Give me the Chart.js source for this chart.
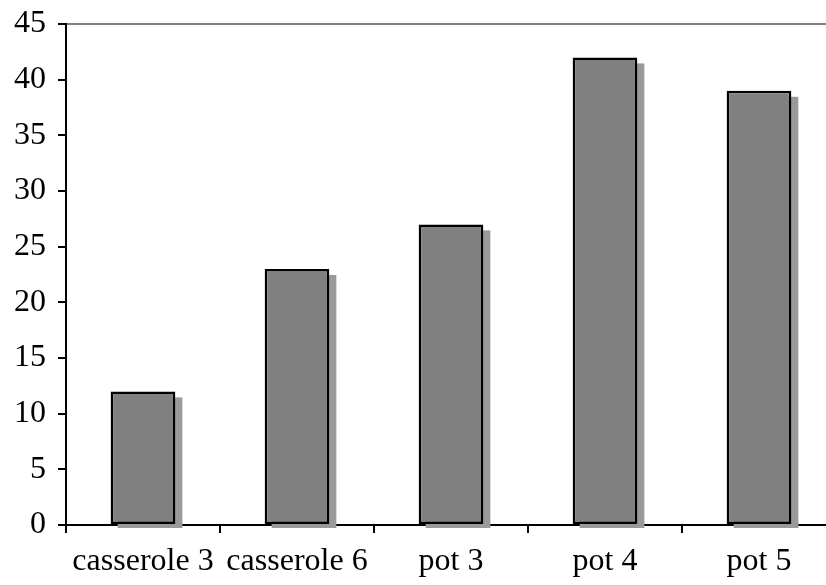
<!DOCTYPE html>
<html>
<head>
<meta charset="utf-8">
<script src="https://cdn.jsdelivr.net/npm/chart.js@4/dist/chart.umd.min.js"></script>
<style>
html,body{margin:0;padding:0;background:#fff;overflow:hidden;width:826px;height:585px;}
#wrap{width:838px;height:585px;}
</style>
</head>
<body>
<div id="wrap"><canvas id="c" width="838" height="585"></canvas></div>
<script>
const categories = ["casserole 3", "casserole 6", "pot 3", "pot 4", "pot 5"];
const values = [12, 23, 27, 42, 39];
const yMin = 0, yMax = 45, yStep = 5;

const shadowPlugin = {
  id: 'barShadow',
  beforeDatasetsDraw(chart) {
    const ctx = chart.ctx;
    const meta = chart.getDatasetMeta(0);
    ctx.save();
    ctx.fillStyle = '#9a9a9a';
    meta.data.forEach(bar => {
      const p = bar.getProps(['x', 'y', 'base', 'width'], true);
      ctx.fillRect(p.x - p.width / 2 + 7, p.y + 6, p.width, p.base - p.y - 2);
    });
    ctx.restore();
  }
};

new Chart(document.getElementById('c'), {
  type: 'bar',
  data: {
    labels: categories,
    datasets: [{
      data: values,
      backgroundColor: '#808080',
      borderColor: '#000000',
      borderWidth: 2.5,
      borderSkipped: false,
      barPercentage: 0.42,
      categoryPercentage: 1.0,
      clip: false
    }]
  },
  options: {
    responsive: false,
    devicePixelRatio: 1,
    animation: false,
    layout: { padding: { top: 24, right: 2, left: 0, bottom: 0 } },
    plugins: { legend: { display: false }, tooltip: { enabled: false } },
    scales: {
      x: {
        offset: true,
        grid: {
          display: true, offset: true, drawOnChartArea: false, drawTicks: true,
          tickLength: 8, color: '#000', lineWidth: 2, tickWidth: 2, tickColor: '#000'
        },
        border: { display: true, color: '#000', width: 2 },
        ticks: {
          color: '#000', padding: 9, maxRotation: 0, autoSkip: false,
          font: { family: "'Liberation Serif', 'Times New Roman', serif", size: 32 }
        },
        afterFit(scale) { scale.height = 60; scale.paddingLeft = 0; scale.paddingRight = 0; }
      },
      y: {
        min: yMin, max: yMax,
        grid: {
          drawTicks: true, tickLength: 8, lineWidth: 2, tickWidth: 2, tickColor: '#000',
          color: ctx => (ctx.tick && ctx.tick.value === yMax) ? '#808080' : 'rgba(0,0,0,0)'
        },
        border: { display: true, color: '#000', width: 2 },
        ticks: {
          stepSize: yStep, color: '#000', padding: 12,
          font: { family: "'Liberation Serif', 'Times New Roman', serif", size: 32 }
        },
        afterFit(scale) { scale.width = 66; scale.paddingTop = 0; scale.paddingBottom = 0; }
      }
    }
  },
  plugins: [shadowPlugin]
});
</script>
</body>
</html>
